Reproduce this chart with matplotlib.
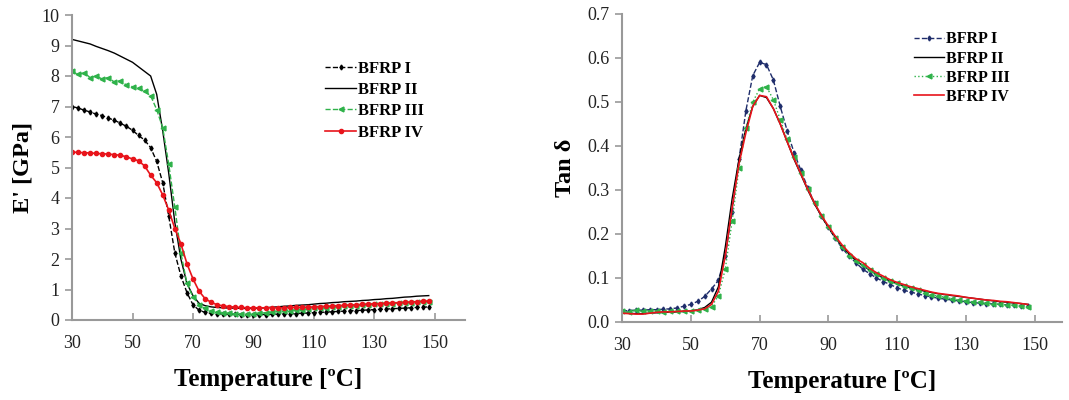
import matplotlib
matplotlib.use('Agg')
import matplotlib.pyplot as plt

# temperature grid [°C]
T = list(range(30, 150, 2))

# storage modulus E' [GPa]
e_1 = [7.00, 6.95, 6.88, 6.82, 6.75, 6.70, 6.62, 6.55, 6.45, 6.35,
       6.22, 6.05, 5.90, 5.65, 5.20, 4.50, 3.40, 2.20, 1.45, 0.90,
       0.50, 0.32, 0.25, 0.22, 0.20, 0.20, 0.19, 0.19, 0.18, 0.18,
       0.18, 0.18, 0.18, 0.19, 0.19, 0.20, 0.20, 0.21, 0.22, 0.23,
       0.24, 0.25, 0.26, 0.27, 0.28, 0.29, 0.30, 0.31, 0.32, 0.33,
       0.34, 0.35, 0.36, 0.37, 0.38, 0.39, 0.40, 0.41, 0.42, 0.43]
e_2 = [9.20, 9.15, 9.10, 9.05, 8.97, 8.90, 8.83, 8.75, 8.65, 8.55,
       8.45, 8.30, 8.15, 8.00, 7.40, 6.20, 4.80, 3.20, 2.00, 1.20,
       0.80, 0.55, 0.47, 0.43, 0.41, 0.40, 0.39, 0.39, 0.38, 0.38,
       0.38, 0.39, 0.40, 0.42, 0.43, 0.45, 0.46, 0.48, 0.49, 0.50,
       0.52, 0.54, 0.55, 0.57, 0.58, 0.60, 0.61, 0.62, 0.64, 0.65,
       0.67, 0.68, 0.70, 0.71, 0.73, 0.75, 0.76, 0.78, 0.79, 0.80]
e_3 = [8.15, 8.05, 8.10, 7.95, 8.00, 7.90, 7.95, 7.80, 7.85, 7.70,
       7.65, 7.60, 7.50, 7.35, 6.90, 6.30, 5.10, 3.70, 2.20, 1.20,
       0.75, 0.50, 0.38, 0.30, 0.27, 0.24, 0.22, 0.20, 0.20, 0.19,
       0.21, 0.22, 0.24, 0.26, 0.28, 0.30, 0.31, 0.33, 0.34, 0.36,
       0.38, 0.39, 0.40, 0.42, 0.43, 0.45, 0.46, 0.47, 0.48, 0.50,
       0.51, 0.52, 0.53, 0.54, 0.55, 0.56, 0.57, 0.58, 0.59, 0.60]
e_4 = [5.50, 5.50, 5.48, 5.48, 5.46, 5.45, 5.44, 5.42, 5.40, 5.35,
       5.28, 5.22, 5.05, 4.75, 4.50, 4.10, 3.60, 3.00, 2.50, 1.85,
       1.35, 0.95, 0.70, 0.58, 0.50, 0.46, 0.44, 0.42, 0.41, 0.40,
       0.40, 0.40, 0.40, 0.40, 0.40, 0.40, 0.41, 0.41, 0.42, 0.42,
       0.43, 0.44, 0.45, 0.46, 0.47, 0.48, 0.49, 0.50, 0.51, 0.52,
       0.53, 0.54, 0.55, 0.56, 0.57, 0.58, 0.59, 0.60, 0.61, 0.62]

# loss factor tan delta
t_1 = [0.025, 0.026, 0.027, 0.027, 0.028, 0.028, 0.029, 0.030, 0.032, 0.036,
       0.040, 0.047, 0.058, 0.075, 0.095, 0.150, 0.250, 0.370, 0.480, 0.560,
       0.590, 0.585, 0.550, 0.490, 0.435, 0.385, 0.345, 0.305, 0.270, 0.240,
       0.215, 0.190, 0.168, 0.150, 0.135, 0.120, 0.110, 0.100, 0.092, 0.085,
       0.078, 0.072, 0.068, 0.064, 0.060, 0.057, 0.054, 0.052, 0.050, 0.048,
       0.046, 0.044, 0.043, 0.042, 0.041, 0.040, 0.039, 0.038, 0.037, 0.036]
t_2 = [0.020, 0.020, 0.019, 0.019, 0.020, 0.021, 0.022, 0.022, 0.023, 0.024,
       0.025, 0.028, 0.033, 0.045, 0.080, 0.170, 0.280, 0.370, 0.440, 0.490,
       0.515, 0.510, 0.485, 0.450, 0.410, 0.370, 0.335, 0.300, 0.268, 0.240,
       0.215, 0.192, 0.172, 0.155, 0.140, 0.128, 0.118, 0.108, 0.100, 0.093,
       0.087, 0.082, 0.078, 0.074, 0.070, 0.067, 0.064, 0.062, 0.060, 0.058,
       0.056, 0.054, 0.052, 0.050, 0.048, 0.046, 0.045, 0.043, 0.042, 0.040]
t_3 = [0.025, 0.022, 0.027, 0.024, 0.026, 0.025, 0.023, 0.026, 0.024, 0.025,
       0.025, 0.027, 0.030, 0.035, 0.060, 0.120, 0.230, 0.350, 0.440, 0.500,
       0.530, 0.535, 0.505, 0.460, 0.415, 0.375, 0.338, 0.302, 0.270, 0.242,
       0.216, 0.192, 0.170, 0.150, 0.138, 0.130, 0.118, 0.108, 0.100, 0.094,
       0.088, 0.082, 0.077, 0.072, 0.066, 0.062, 0.059, 0.056, 0.053, 0.050,
       0.048, 0.046, 0.045, 0.043, 0.042, 0.040, 0.039, 0.038, 0.036, 0.035]
t_4 = [0.020, 0.019, 0.018, 0.018, 0.020, 0.022, 0.023, 0.023, 0.024, 0.025,
       0.025, 0.027, 0.030, 0.040, 0.070, 0.150, 0.260, 0.360, 0.430, 0.490,
       0.515, 0.512, 0.485, 0.450, 0.410, 0.372, 0.337, 0.302, 0.270, 0.242,
       0.218, 0.195, 0.175, 0.158, 0.144, 0.135, 0.122, 0.112, 0.104, 0.096,
       0.090, 0.085, 0.080, 0.076, 0.072, 0.068, 0.065, 0.063, 0.061, 0.059,
       0.056, 0.054, 0.052, 0.050, 0.049, 0.047, 0.046, 0.044, 0.042, 0.040]

labels = ['BFRP I', 'BFRP II', 'BFRP III', 'BFRP IV']
green = '#2fb24a'
navy = '#1f2d6b'
red = '#e8141b'

plt.rcParams['font.family'] = ['Liberation Serif', 'DejaVu Serif']

fig = plt.figure(figsize=(10.69, 4.0), dpi=100)
ax1 = fig.add_axes([0.0674, 0.2, 0.3676, 0.7625])
ax2 = fig.add_axes([0.582, 0.195, 0.4115, 0.77])


def style(ax):
    for s in ['top', 'right']:
        ax.spines[s].set_visible(False)
    for s in ['left', 'bottom']:
        ax.spines[s].set_color('#999999')
        ax.spines[s].set_linewidth(1.5)
    ax.tick_params(axis='y', direction='out', length=5, width=1.2, color='#999999',
                   labelsize=13, pad=4, labelcolor='#222222')
    ax.tick_params(axis='x', direction='in', length=5, width=1.2, color='#999999',
                   labelsize=13, pad=11, labelcolor='#222222')
    ax.set_xticks(range(30, 151, 20))
    ax.set_xlabel('Temperature [ºC]', fontsize=18, fontweight='bold', labelpad=11)


# E' panel
ax1.plot(T, e_1, '--', color='black', lw=1, marker='d', ms=2.5, label=labels[0])
ax1.plot(T, e_2, '-', color='black', lw=1, label=labels[1])
ax1.plot(T, e_3, '--', color=green, lw=1, marker='<', ms=3.5, label=labels[2])
ax1.plot(T, e_4, '-', color=red, lw=1.2, marker='o', ms=3, label=labels[3])
ax1.set_xlim(30, 160)
ax1.set_ylim(0, 10)
ax1.set_yticks(range(0, 11))
ax1.set_ylabel("E' [GPa]", fontsize=17.5, fontweight='bold', labelpad=6)
style(ax1)
ax1.legend(loc='upper left', bbox_to_anchor=(0.605, 0.90), frameon=False,
           prop={'weight': 'bold', 'size': 12}, handlelength=1.9,
           handletextpad=0.1, labelspacing=0.32)

# tan delta panel
ax2.plot(T, t_1, '--', color=navy, lw=1, marker='d', ms=2.5, label=labels[0])
ax2.plot(T, t_2, '-', color='black', lw=1, label=labels[1])
ax2.plot(T, t_3, ':', color=green, lw=1, marker='<', ms=3.5, label=labels[2])
ax2.plot(T, t_4, '-', color=red, lw=1.2, label=labels[3])
ax2.set_xlim(30, 158)
ax2.set_ylim(0, 0.7)
ax2.set_yticks([i / 10 for i in range(8)])
ax2.set_yticklabels(['%.1f' % (i / 10) for i in range(8)])
ax2.set_ylabel('Tan δ', fontsize=17.5, fontweight='bold', labelpad=8)
style(ax2)
ax2.legend(loc='upper left', bbox_to_anchor=(0.63, 0.99), frameon=False,
           prop={'weight': 'bold', 'size': 11.5}, handlelength=1.9,
           handletextpad=0.1, labelspacing=0.2)

fig.savefig('out.png', dpi=100)
